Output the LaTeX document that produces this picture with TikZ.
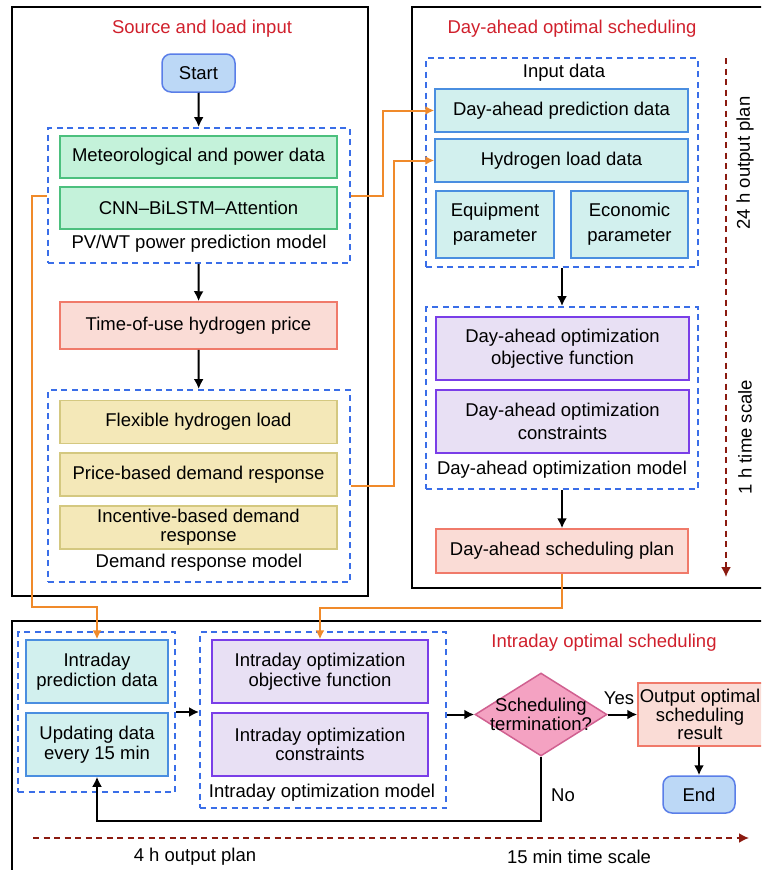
\documentclass[tikz,border=0pt]{standalone}
\usepackage{fontspec}
\setmainfont{Liberation Sans}
\usetikzlibrary{shapes.geometric,arrows.meta}

\definecolor{titlered}{HTML}{D0202C}
\definecolor{grpblue}{HTML}{3A6EE8}
\definecolor{grnL}{HTML}{C4F2DA}
\definecolor{grnD}{HTML}{4CC07E}
\definecolor{salL}{HTML}{FADCD6}
\definecolor{salD}{HTML}{F07A6A}
\definecolor{yelL}{HTML}{F4E8B8}
\definecolor{yelD}{HTML}{D4C880}
\definecolor{cyaL}{HTML}{D2F0EE}
\definecolor{cyaD}{HTML}{4A8EE0}
\definecolor{purL}{HTML}{E8E0F4}
\definecolor{purD}{HTML}{7A3EE8}
\definecolor{pnkL}{HTML}{F4A2C2}
\definecolor{pnkD}{HTML}{D06090}
\definecolor{trmL}{HTML}{BCD8F6}
\definecolor{trmD}{HTML}{5A7EE8}
\definecolor{flow}{HTML}{F08A2A}
\definecolor{scale}{HTML}{8B1A10}

\begin{document}
\begin{tikzpicture}[x=1pt,y=-1pt,
  every node/.style={font=\fontsize{18.5}{21}\selectfont},
  base/.style={draw, line width=1.5pt, align=center, inner sep=0pt},
  greenbox/.style={base, draw=grnD, fill=grnL, minimum width=277pt, minimum height=42pt},
  salbox/.style={base, draw=salD, fill=salL},
  yelbox/.style={base, draw=yelD, fill=yelL, minimum width=277pt, minimum height=43pt},
  cyabox/.style={base, draw=cyaD, fill=cyaL},
  purbox/.style={base, draw=purD, fill=purL},
  term/.style={base, draw=trmD, fill=trmL, rounded corners=9pt},
  group/.style={draw=grpblue, dash pattern=on 6pt off 4.5pt, line width=1.9pt, inner sep=0pt},
  frame/.style={draw=black, line width=2.6pt},
  title/.style={text=titlered},
  arr/.style={line width=2pt, -{Latex[length=10pt,width=10pt]}},
  oarr/.style={draw=flow, line width=2pt, -{Latex[length=9pt,width=9pt]}},
  sarr/.style={draw=scale, line width=1.8pt, dash pattern=on 6pt off 4.5pt, -{Latex[length=10pt,width=10pt]}}
]
\useasboundingbox (0,0) rectangle (761,870);
\clip (0,0) rectangle (761,870);

% ---- outer frames ----
\draw[frame] (12,7) rectangle (368,596);
\draw[frame] (412,7) rectangle (790,588);
\draw[frame] (12,621) rectangle (790,900);

% ---- source and load input ----
\node[title] (t1) at (202,29) {Source and load input};
\node[term, minimum width=73pt, minimum height=38pt] (start) at (198.5,73) {Start};

\node[group, minimum width=302pt, minimum height=135pt] (g1) at (199,195.5) {};
\node[greenbox] (meteo) at (198.5,157) {Meteorological and power data};
\node[greenbox] (cnn) at (198.5,208) {CNN--BiLSTM--Attention};
\node (g1lab) at (199,244) {PV/WT power prediction model};

\node[salbox, minimum width=277pt, minimum height=47pt] (price) at (198.5,325.5) {Time-of-use hydrogen price};

\node[group, minimum width=302pt, minimum height=192pt] (g2) at (199,486) {};
\node[yelbox] (flex) at (198.5,422) {Flexible hydrogen load};
\node[yelbox] (pbdr) at (198.5,474.5) {Price-based demand response};
\node[yelbox, font=\fontsize{18.5}{19}\selectfont] (ibdr) at (198.5,527.5) {Incentive-based demand\\response};
\node (g2lab) at (199,563) {Demand response model};

% ---- day-ahead optimal scheduling ----
\node[title] (t2) at (572,29) {Day-ahead optimal scheduling};

\node[group, minimum width=272pt, minimum height=209pt] (g3) at (562,162.5) {};
\node (g3lab) at (564,73) {Input data};
\node[cyabox, minimum width=253pt, minimum height=43pt] (dap) at (561.5,110.5) {Day-ahead prediction data};
\node[cyabox, minimum width=253pt, minimum height=43pt] (hld) at (561.5,160.5) {Hydrogen load data};
\node[cyabox, minimum width=118pt, minimum height=67pt, font=\fontsize{18.5}{25}\selectfont] (equip) at (495,224.5) {Equipment\\parameter};
\node[cyabox, minimum width=117pt, minimum height=67pt, font=\fontsize{18.5}{25}\selectfont] (econ) at (629.5,224.5) {Economic\\parameter};

\node[group, minimum width=272pt, minimum height=182pt] (g4) at (562,398) {};
\node[purbox, minimum width=253pt, minimum height=63pt, font=\fontsize{18.5}{22.5}\selectfont] (daobj) at (562.5,348.5) {Day-ahead optimization\\objective function};
\node[purbox, minimum width=253pt, minimum height=63pt, font=\fontsize{18.5}{22.5}\selectfont] (dacon) at (562.5,421.5) {Day-ahead optimization\\constraints};
\node (g4lab) at (562,470) {Day-ahead optimization model};

\node[salbox, minimum width=252pt, minimum height=44pt] (plan) at (562,551) {Day-ahead scheduling plan};

\coordinate (vtop) at (726,58);
\coordinate (vbot) at (726,577);
\draw[sarr] (vtop) -- (vbot);
\node[rotate=90] (l24) at (745,163) {24 h output plan};
\node[rotate=90] (l1h) at (745,437) {1 h time scale};

% ---- intraday optimal scheduling ----
\node[title] (t3) at (604,643) {Intraday optimal scheduling};

\node[group, minimum width=157pt, minimum height=160pt] (g5) at (96.5,712) {};
\node[cyabox, minimum width=142pt, minimum height=63pt, font=\fontsize{18.5}{19.5}\selectfont] (ipd) at (97,671.5) {Intraday\\prediction data};
\node[cyabox, minimum width=142pt, minimum height=63pt, font=\fontsize{18.5}{19.5}\selectfont] (upd) at (97,744.5) {Updating data\\every 15 min};

\node[group, minimum width=246pt, minimum height=176pt] (g6) at (323,720) {};
\node[purbox, minimum width=216pt, minimum height=63pt, font=\fontsize{18.5}{19.5}\selectfont] (iobj) at (320,671.5) {Intraday optimization\\objective function};
\node[purbox, minimum width=216pt, minimum height=63pt, font=\fontsize{18.5}{19.5}\selectfont] (icon) at (320,744.5) {Intraday optimization\\constraints};
\node (g6lab) at (322,793) {Intraday optimization model};

\node[diamond, draw=pnkD, fill=pnkL, line width=1.5pt, minimum width=132pt, minimum height=83pt,
      aspect=1.59, inner sep=0pt,
      label={[align=center, font=\fontsize{18.5}{19}\selectfont]center:Scheduling\\termination?}] (dec) at (541,714.5) {};

\node[salbox, minimum width=126pt, minimum height=63pt] (out) at (701,714.5) {};
\node[align=center, font=\fontsize{18.5}{18.5}\selectfont] (outtxt) at (700,714.5) {Output optimal\\scheduling\\result};
\node[term, minimum width=72pt, minimum height=37pt] (end) at (699,794.5) {End};

\node (yes) at (619,698) {Yes};
\node (no) at (563,795) {No};

\coordinate (hl) at (33,838);
\coordinate (hr) at (749,838);
\draw[sarr] (hl) -- (hr);
\node (l4h) at (195,857) {4 h output plan};
\node (l15) at (579,857) {15 min time scale};

% ---- black flow arrows ----
\draw[arr] (start) -- (g1);
\draw[arr] (g1) -- (price);
\draw[arr] (price) -- (g2);
\draw[arr] (g3) -- (g4);
\draw[arr] (g4) -- (plan);
\draw[arr] (g5.east) -- (g5.east -| g6.west);
\draw[arr] (g6.east |- dec) -- (dec.west);
\draw[arr] (dec.east) -- (out.west);
\draw[arr] (out.south -| end) -- (end.north);
\coordinate (noy) at (0,821);
\draw[arr] (dec.south) |- (noy -| upd.south) -- (upd.south);

% ---- orange data links ----
\draw[oarr] (g1.east) -- ++(32,0) |- (dap.west);
\draw[oarr] (g2.east) -- ++(43,0) |- (hld.west);
\coordinate (o3) at (32,607);
\draw[oarr] (g1.west) -| (o3) -| (ipd.north);
\coordinate (o4) at (0,608);
\draw[oarr] (plan.south) |- (o4 -| iobj.north) -- (iobj.north);
\end{tikzpicture}
\end{document}
